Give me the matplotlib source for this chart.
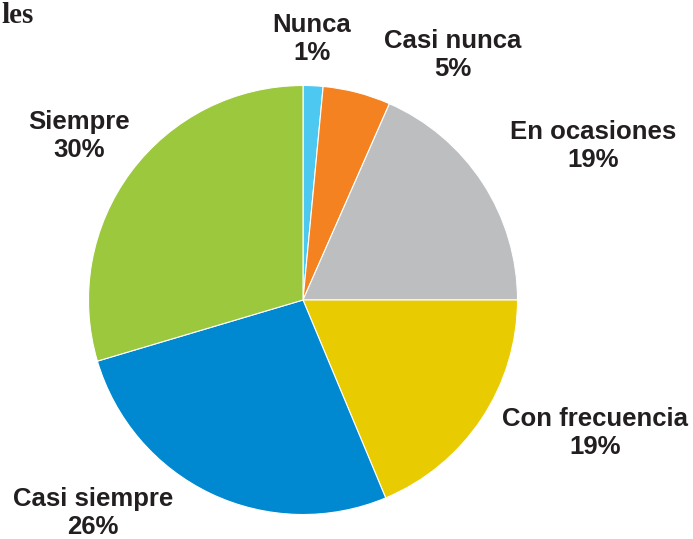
import matplotlib.pyplot as plt

categories = ["Nunca", "Casi nunca", "En ocasiones", "Con frecuencia", "Casi siempre", "Siempre"]
values = [1.5, 5.1, 18.4, 18.7, 26.7, 29.6]
pct_labels = ["1%", "5%", "19%", "19%", "26%", "30%"]
colors = ["#4CC8F1", "#F58220", "#BCBEC0", "#E8CB00", "#0088D1", "#9BC83D"]

# label block centres in pixels (x, y from top)
label_pos = [(312, 39), (453, 55), (593, 146), (595, 433), (93, 513), (79, 136)]

W, H = 693, 539
fig = plt.figure(figsize=(W / 100, H / 100), dpi=100)
cx, cy, r = 303, 300, 214.5
ax = fig.add_axes([(cx - r) / W, (H - cy - r) / H, 2 * r / W, 2 * r / H])
ax.pie(values, colors=colors, startangle=90, counterclock=False, radius=1,
       wedgeprops=dict(edgecolor="white", linewidth=0.8))
ax.set_xlim(-1, 1)
ax.set_ylim(-1, 1)
ax.set_aspect("equal")
ax.axis("off")

for cat, pct, (x, y) in zip(categories, pct_labels, label_pos):
    fig.text(x / W, 1 - y / H, f"{cat}\n{pct}", ha="center", va="center",
             fontsize=18.5, fontweight="bold", family="Liberation Sans",
             color="#231F20", linespacing=1.25)

# leftover end of a cropped title
fig.text(1 / W, 1 - 23 / H, "les", ha="left", va="baseline", fontsize=21,
         fontweight="bold", family="Liberation Serif", color="#231F20")

fig.savefig("out.png", dpi=100)
